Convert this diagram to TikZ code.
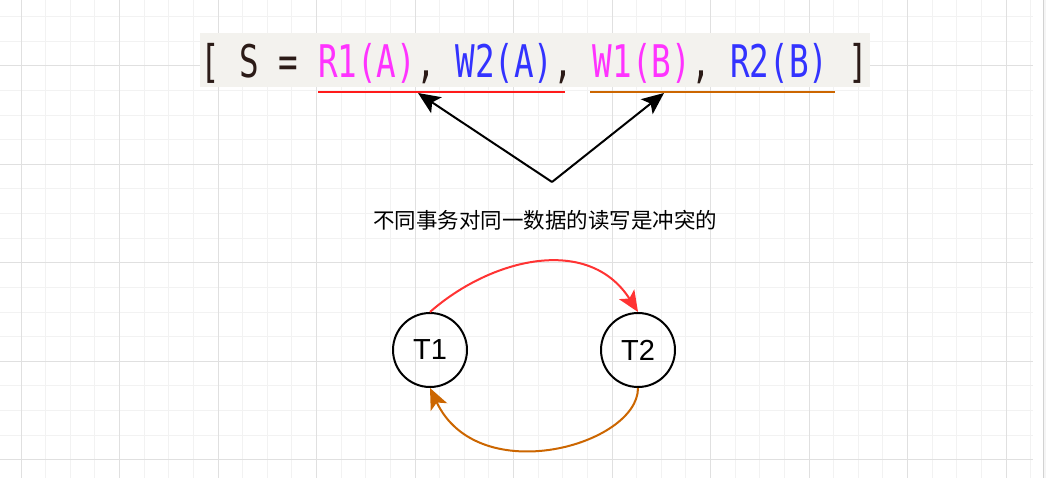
\documentclass[tikz,border=0pt]{standalone}
\usepackage{fontspec}
\usepackage{graphicx}
\setmainfont{Liberation Sans}
\newfontfamily\cjkfont{Noto Sans CJK SC}
\newfontfamily\codefont{DejaVu Sans Mono}
\usetikzlibrary{arrows.meta}

\definecolor{gridminor}{HTML}{F2F2F2}
\definecolor{gridmajor}{HTML}{E0E0E0}
\definecolor{codebg}{HTML}{F3F2EE}
\definecolor{codeink}{HTML}{2B1B17}
\definecolor{tonecol}{HTML}{FF33FF}
\definecolor{ttwocol}{HTML}{3333FF}
\definecolor{linered}{HTML}{FF1A1A}
\definecolor{lineorange}{HTML}{CC6600}
\definecolor{arcred}{HTML}{FF3333}

\tikzset{
  txnode/.style={circle, draw=black, line width=2pt, minimum size=74pt, inner sep=0pt,
    font=\fontsize{29}{31}\selectfont},
  pointer/.style={line width=2pt, -{Stealth[length=22pt,width=19pt,inset=5pt]}},
  conflict/.style={line width=2pt, -{Stealth[length=21pt,width=18pt,inset=5pt]}}
}

\begin{document}
\begin{tikzpicture}[x=1pt,y=1pt]
  \useasboundingbox (0,0) rectangle (1046,-478);
  \fill[white] (0,0) rectangle (1046,-478);

  % Raster
  \foreach \i in {0,...,41}
    \draw[gridminor, line width=1pt] ({21+24.625*\i},0) -- ({21+24.625*\i},-478);
  \foreach \j in {0,...,18}
    \draw[gridminor, line width=1pt] (0,{-16.8-24.6*\j}) -- (1033,{-16.8-24.6*\j});
  \foreach \i in {0,...,10}
    \draw[gridmajor, line width=1pt] ({21+98.5*\i},0) -- ({21+98.5*\i},-478);
  \foreach \j in {0,...,4}
    \draw[gridmajor, line width=1pt] (0,{-66-98.4*\j}) -- (1033,{-66-98.4*\j});
  \fill[white] (1033,0) rectangle (1043,-478);
  \fill[gray!8] (1043,0) rectangle (1046,-478);
  \draw[gray!35, line width=1pt] (1043,0) -- (1043,-478);

  % Schedule
  \fill[codebg] (200,-33) rectangle (870,-87);
  \node[inner sep=0pt, text=codeink, font=\codefont\fontsize{32.6}{34}\selectfont] (sched) at (534,-64)
    {\scalebox{1}[1.38]{[ S = \textcolor{tonecol}{R1(A)}, \textcolor{ttwocol}{W2(A)}, \textcolor{tonecol}{W1(B)}, \textcolor{ttwocol}{R2(B)} ]}};

  % Unterstreichungen
  \draw[linered, line width=2.5pt] (318,-92) -- (565,-92);
  \draw[lineorange, line width=2.5pt] (590,-92) -- (835,-92);

  % Pfeile zum Konflikt
  \coordinate (split) at (552,-182);
  \coordinate (hitA) at (418,-93);
  \coordinate (hitB) at (664,-93);
  \draw[pointer] (split) -- (hitA);
  \draw[pointer] (split) -- (hitB);
  \node[font=\cjkfont\fontsize{21.5}{24}\selectfont, text=black] (note) at (545,-220) {不同事务对同一数据的读写是冲突的};

  % Konfliktgraph
  \node[txnode] (tone) at (430,-350) {T1};
  \node[txnode] (ttwo) at (638,-350) {T2};
  \draw[conflict, arcred] (tone.north) .. controls (490,-259) and (588,-234) .. (ttwo.north);
  \draw[conflict, lineorange] (ttwo.south) .. controls (638,-445) and (478,-490) .. (tone.south);
\end{tikzpicture}
\end{document}
